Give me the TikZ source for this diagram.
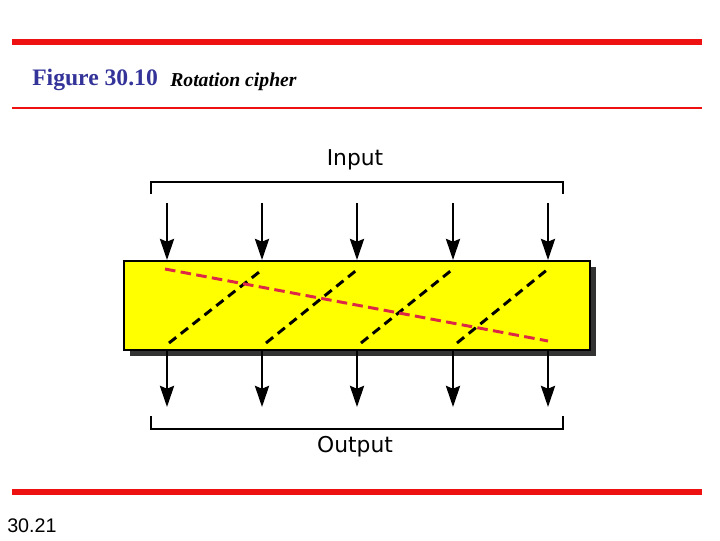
\documentclass[tikz,border=0pt]{standalone}
\usepackage{fontspec}
\setmainfont{Liberation Serif}
\newfontfamily\labelfont{DejaVu Sans}
\newfontfamily\pagefont{Liberation Sans}
\usetikzlibrary{arrows.meta, positioning, shadows}
\definecolor{barred}{HTML}{EE1111}
\definecolor{titleblue}{HTML}{333399}
\definecolor{keyred}{HTML}{DC2846}
\definecolor{boxyellow}{HTML}{FFFF00}
\tikzset{
	barline/.style={
			draw=barred,
			line width=4.3pt
		},
	wireline/.style={
			line width=1.8pt,
			-{Stealth[length=15pt,width=10pt,inset=2pt]}
		},
	bracketline/.style={
			line width=1.2pt
		},
	cipherbox/.style={
			draw=black,
			line width=1.4pt,
			fill=boxyellow,
			minimum width=466*0.025cm,
			minimum height=89*0.025cm,
			inner sep=0pt,
			drop shadow={shadow xshift=4pt, shadow yshift=-4pt,
				fill=black!80, opacity=1}
		},
	rotline/.style={
			line width=2.1pt,
			dash pattern=on 6.5pt off 4.2pt
		},
	keyline/.style={
			rotline,
			draw=keyred,
			dash pattern=on 7.5pt off 3.8pt
		},
	iolabel/.style={
			font=\labelfont\fontsize{15.5}{18}\selectfont
		}
}

\begin{document}
\begin{tikzpicture}[x=0.025cm, y=-0.025cm]
\useasboundingbox[fill=white] (0,0) rectangle (720,540);

% title bars
\draw[barline] (12,42) -- (702,42);
\draw[barline, line width=2.1pt] (12,108) -- (702,108);
\draw[barline] (12,492) -- (702,492);

\node[anchor=base west, inner sep=0pt, text=titleblue,
	font=\bfseries\fontsize{16.8}{20}\selectfont] (fig) at (32,85) {Figure 30.10};
\node[anchor=base west, inner sep=0pt,
	font=\bfseries\itshape\fontsize{14}{17}\selectfont] (caption) at (170,86) {Rotation cipher};
\node[anchor=base west, inner sep=0pt,
	font=\pagefont\fontsize{14}{17}\selectfont] (page) at (7,532) {30.21};

% the cipher block
\node[cipherbox] (cipher) at (357,305.5) {};

% input side
\node[iolabel] (input) at (355,160) {Input};
\draw[bracketline] (151,194) |- (563,182) -- (563,194);
\foreach \x [count=\i] in {167,262,357,453,548} {
	\coordinate (in\i) at (\x,203);
	\coordinate (out\i) at (\x,407);
	\draw[wireline] (in\i) -- (in\i |- cipher.north);
	\draw[wireline] (in\i |- cipher.south) -- (out\i);
}

% output side
\draw[bracketline] (151,416) |- (563,429) -- (563,416);
\node[iolabel] (output) at (355,447) {Output};

% rotation paths inside the block
\foreach \a/\b in {169/263, 266/358, 361/453, 457/548} {
	\draw[rotline] (\a,343) -- (\b,269);
}
\draw[keyline] (165,269) -- (548,341);
\end{tikzpicture}
\end{document}
